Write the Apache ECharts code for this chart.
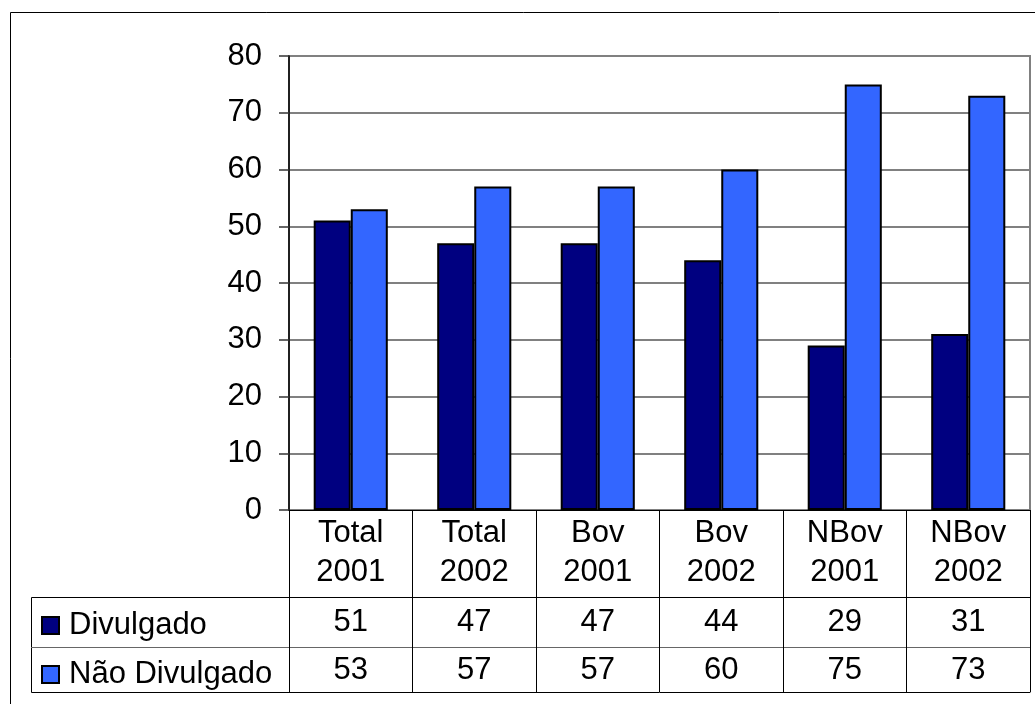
<!DOCTYPE html>
<html>
<head>
<meta charset="utf-8">
<script src="https://cdn.jsdelivr.net/npm/echarts@6/dist/echarts.min.js"></script>
<style>
  html, body { margin: 0; padding: 0; background: #fff; }
  #chart { width: 1035px; height: 704px; }
</style>
</head>
<body>
<div id="chart"></div>
<script>
// dados
var categorias = ['Total\n2001', 'Total\n2002', 'Bov\n2001', 'Bov\n2002', 'NBov\n2001', 'NBov\n2002'];
var divulgado = [51, 47, 47, 44, 29, 31];
var naoDivulgado = [53, 57, 57, 60, 75, 73];
var nomes = ['Divulgado', 'Não Divulgado'];
var yTicks = [0, 10, 20, 30, 40, 50, 60, 70, 80];

var fonte = '"Liberation Sans", Arial, sans-serif';
var tam = 31;
var gridLeft = 289, gridTop = 56, gridRight = 1030, gridBottom = 510;
var linha1 = 597, linha2 = 647, linha3 = 692, tabelaEsq = 31;

var chart = echarts.init(document.getElementById('chart'));

// eixo x extra usado como linha da tabela
function eixoTabela(offset, valores, margem, cor) {
  return {
    type: 'category',
    data: valores,
    position: 'bottom',
    offset: offset,
    axisLine: { show: true, lineStyle: { color: cor, width: 1 } },
    axisTick: { show: false },
    axisLabel: {
      show: !!valores,
      color: '#000',
      fontFamily: fonte,
      fontSize: tam,
      lineHeight: tam,
      margin: margem
    }
  };
}

chart.setOption({
  animation: false,
  backgroundColor: '#fff',
  textStyle: { fontFamily: fonte },
  grid: {
    left: gridLeft,
    top: gridTop,
    right: 1035 - gridRight,
    bottom: 704 - gridBottom,
    show: true,
    borderColor: '#808080',
    borderWidth: 2
  },
  legend: {
    orient: 'vertical',
    left: 36,
    top: 603,
    itemWidth: 17,
    itemHeight: 17,
    itemGap: 14,
    icon: 'rect',
    selectedMode: false,
    textStyle: { fontFamily: fonte, fontSize: tam, lineHeight: tam, color: '#000', padding: [4, 0, 0, 5] },
    data: nomes
  },
  xAxis: [
    {
      type: 'category',
      data: categorias,
      position: 'bottom',
      axisLine: { show: true, lineStyle: { color: '#000', width: 1 } },
      axisTick: { show: true, inside: false, length: linha3 - gridBottom, alignWithLabel: false, lineStyle: { color: '#000' } },
      axisLabel: { color: '#000', fontFamily: fonte, fontSize: tam, lineHeight: 39, margin: 4, interval: 0 }
    },
    eixoTabela(linha1 - gridBottom, divulgado.map(String), 10, '#000'),
    eixoTabela(linha2 - gridBottom, naoDivulgado.map(String), 8, '#666'),
    eixoTabela(linha3 - gridBottom, null, 0, '#000')
  ],
  yAxis: {
    type: 'value',
    min: yTicks[0],
    max: yTicks[yTicks.length - 1],
    interval: 10,
    axisLine: { show: true, lineStyle: { color: '#000', width: 1.5 } },
    axisTick: { show: true, inside: false, length: 10, lineStyle: { color: '#333', width: 1.5 } },
    axisLabel: { color: '#000', fontFamily: fonte, fontSize: tam, margin: 27 },
    splitLine: { show: true, lineStyle: { color: '#808080', width: 2 } }
  },
  series: [
    {
      name: nomes[0],
      type: 'bar',
      data: divulgado,
      barWidth: '30%',
      barGap: '0%',
      itemStyle: { color: '#000080', borderColor: '#000', borderWidth: 2 }
    },
    {
      name: nomes[1],
      type: 'bar',
      data: naoDivulgado,
      barWidth: '30%',
      barGap: '0%',
      itemStyle: { color: '#3366FF', borderColor: '#000', borderWidth: 2 }
    }
  ],
  graphic: [
    // moldura externa
    {
      type: 'rect',
      shape: { x: 10.5, y: 12.5, width: 1100, height: 800 },
      style: { fill: null, stroke: '#000', lineWidth: 1 },
      z: -1
    },
    // parte da legenda na tabela
    {
      type: 'rect',
      shape: { x: tabelaEsq + 0.5, y: linha1 + 0.5, width: gridLeft - tabelaEsq, height: linha3 - linha1 },
      style: { fill: null, stroke: '#000', lineWidth: 1 }
    },
    {
      type: 'line',
      shape: { x1: tabelaEsq, y1: linha2 + 0.5, x2: gridLeft, y2: linha2 + 0.5 },
      style: { stroke: '#666', lineWidth: 1 }
    }
  ]
});
</script>
</body>
</html>
